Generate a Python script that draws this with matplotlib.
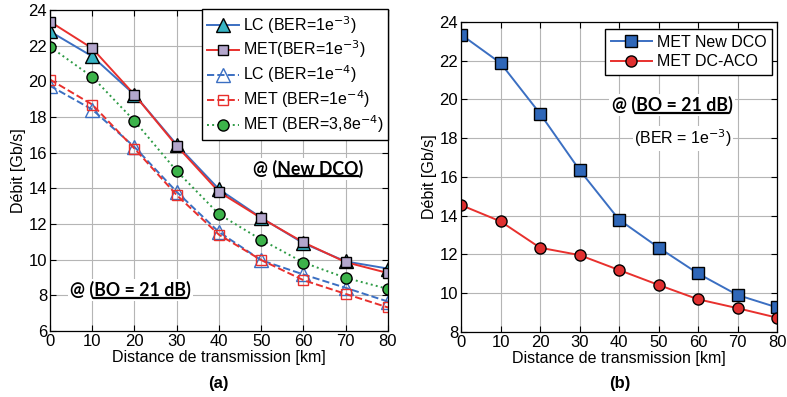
import numpy as np
import matplotlib
matplotlib.use('Agg')
import matplotlib.pyplot as plt
from matplotlib.lines import Line2D

plt.rcParams['font.family'] = ['Liberation Sans', 'DejaVu Sans']
plt.rcParams['font.size'] = 11.5

# distances (km)
dist = [0, 10, 20, 30, 40, 50, 60, 70, 80]

# panel (a)
lc_1e3 = [22.8, 21.4, 19.25, 16.45, 13.95, 12.35, 10.92, 9.9, 9.5]
met_1e3 = [23.35, 21.85, 19.25, 16.38, 13.8, 12.33, 10.97, 9.86, 9.25]
lc_1e4 = [19.75, 18.42, 16.32, 13.8, 11.55, 9.97, 9.17, 8.42, 7.65]
met_1e4 = [20.1, 18.7, 16.23, 13.62, 11.4, 9.98, 8.85, 8.08, 7.32]
met_38e4 = [21.94, 20.25, 17.78, 14.97, 12.55, 11.12, 9.84, 8.98, 8.36]

# panel (b)
met_newdco = [23.35, 21.88, 19.27, 16.36, 13.8, 12.36, 11.02, 9.91, 9.27]
met_dcaco = [14.55, 13.71, 12.35, 11.97, 11.2, 10.43, 9.69, 9.23, 8.74]

blue = '#3b6fc2'
red = '#e8302d'
green = '#2e9b45'

fig = plt.figure(figsize=(7.87, 3.97), dpi=100)
ax1 = fig.add_axes([0.0635, 0.1662, 0.4295, 0.8086])
ax2 = fig.add_axes([0.5858, 0.1637, 0.4015, 0.781])


def style_axes(ax):
    ax.grid(True, color='#b5b5b5', linewidth=0.8, linestyle='-')
    ax.set_axisbelow(True)
    ax.tick_params(direction='in', top=True, right=True, length=4, width=0.8,
                   labelsize=12, pad=2)
    for s in ax.spines.values():
        s.set_linewidth(0.9)
    ax.set_xlim(0, 80)
    ax.set_xticks(dist)
    ax.set_xlabel('Distance de transmission [km]', fontsize=11.5, labelpad=1)
    ax.set_ylabel('Débit [Gb/s]', fontsize=11.5, labelpad=2)


# ---- (a)
ax1.plot(dist, lc_1e3, '-^', color=blue, lw=1.4, ms=10, mfc='#37b4c4', mec='black',
         mew=1.0, label='LC (BER=1e$^{-3}$)')
ax1.plot(dist, met_1e3, '-s', color=red, lw=1.4, ms=7, mfc='#b3a6cc', mec='black',
         mew=1.0, label='MET(BER=1e$^{-3}$)')
ax1.plot(dist, lc_1e4, '--^', color=blue, lw=1.4, ms=10, mfc='none', mec=blue,
         mew=1.0, label='LC (BER=1e$^{-4}$)')
ax1.plot(dist, met_1e4, '--s', color=red, lw=1.4, ms=7.5, mfc='none', mec=red,
         mew=1.0, label='MET (BER=1e$^{-4}$)')
ax1.plot(dist, met_38e4, ':o', color=green, lw=1.4, ms=8, mfc='#3cb34a', mec='black',
         mew=1.0, label='MET (BER=3,8e$^{-4}$)')
style_axes(ax1)
ax1.set_ylim(6, 24)
ax1.set_yticks(range(6, 25, 2))
leg1 = ax1.legend(loc='upper right', bbox_to_anchor=(1.0, 1.003), fontsize=11.5,
                  frameon=True, fancybox=False, edgecolor='black', framealpha=1,
                  handlelength=2.0, handletextpad=0.25, labelspacing=0.2,
                  borderpad=0.3, borderaxespad=0)
leg1.get_frame().set_linewidth(1.0)

# ---- (b)
ax2.plot(dist, met_newdco, '-s', color=blue, lw=1.4, ms=8, mfc='#2f67b8', mec='black',
         mew=1.0, label='MET New DCO')
ax2.plot(dist, met_dcaco, '-o', color=red, lw=1.4, ms=8, mfc='#e03030', mec='black',
         mew=1.0, label='MET DC-ACO')
style_axes(ax2)
ax2.set_ylim(8, 24)
ax2.set_yticks(range(8, 25, 2))
leg2 = ax2.legend(loc='upper right', bbox_to_anchor=(0.985, 0.977), fontsize=11.5,
                  frameon=True, fancybox=False, edgecolor='black', framealpha=1,
                  handlelength=2.6, handletextpad=0.3, labelspacing=0.3,
                  borderpad=0.35, borderaxespad=0)
leg2.get_frame().set_linewidth(1.0)

# annotations with underlined part
boldfont = dict(family=['Lato', 'DejaVu Sans'], fontweight='bold', fontsize=12.8)
notes = []


def note(ax, x, y, pre, und, post):
    t = ax.text(x, y, pre + und + post, ha='center', va='center',
                bbox=dict(facecolor='white', edgecolor='none', pad=1.5), **boldfont)
    notes.append((t, pre, und))


note(ax1, 61, 15.1, '@ (', 'New DCO', ')')
note(ax1, 19, 8.3, '@ (', 'BO = 21 dB', ')')
note(ax2, 53.4, 19.7, '@ (', 'BO = 21 dB', ')')
ax2.text(56.2, 18.0, '(BER = 1e$^{-3}$)', ha='center', va='center', fontsize=11.5,
         bbox=dict(facecolor='white', edgecolor='none', pad=1))

fig.text(0.278, 0.035, '(a)', ha='center', va='center', fontsize=12, fontweight='bold')
fig.text(0.787, 0.035, '(b)', ha='center', va='center', fontsize=12, fontweight='bold')

# underline the middle part of each note
fig.canvas.draw()
renderer = fig.canvas.get_renderer()
inv = fig.transFigure.inverted()
for t, pre, und in notes:
    bb = t.get_window_extent(renderer)
    tmp = fig.text(0, 0, pre, **boldfont)
    w_pre = tmp.get_window_extent(renderer).width
    tmp.set_text(pre + und)
    w_und = tmp.get_window_extent(renderer).width
    tmp.remove()
    yline = bb.y0 + 1.5
    p0 = inv.transform((bb.x0 + w_pre, yline))
    p1 = inv.transform((bb.x0 + w_und, yline))
    fig.add_artist(Line2D([p0[0], p1[0]], [p0[1], p1[1]], color='black', lw=1.6,
                          transform=fig.transFigure, zorder=10))

fig.savefig('out.png', dpi=100)
